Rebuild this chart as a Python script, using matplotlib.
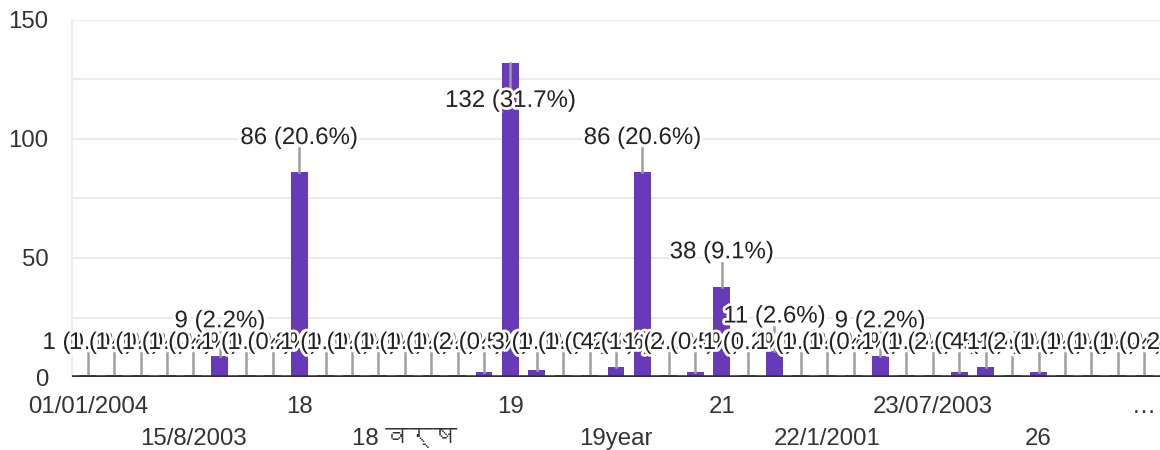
import matplotlib
matplotlib.use("Agg")
import matplotlib.pyplot as plt
import matplotlib.patheffects as pe
from matplotlib import font_manager
from matplotlib.ft2font import FT2Font
import numpy as np

# counts per response, in the order the chart shows them
counts = [1, 1, 1, 1, 1, 9, 1, 1, 86, 1, 1, 1, 1, 1, 1, 2, 132, 3, 1, 1, 4,
          86, 1, 2, 38, 1, 11, 1, 1, 1, 9, 1, 1, 2, 4, 1, 2, 1, 1, 1, 1]
# only every 4th category name is shown on the axis
tick_labels = ["01/01/2004", "15/8/2003", "18", "18 वर्ष", "19", "19year",
               "21", "22/1/2001", "23/07/2003", "26", "…"]
tick_step = 4
y_ticks = [0, 50, 100, 150]


def font_with(ch):
    # look for an installed face that can draw this character
    for f in font_manager.fontManager.ttflist:
        try:
            if FT2Font(f.fname).get_char_index(ord(ch)):
                return f.name
        except Exception:
            pass
    return None


families = ["Liberation Sans"]
deva = font_with("व")
if deva:
    families.append(deva)
families.append("DejaVu Sans")
plt.rcParams["font.family"] = families

BAR = "#673ab7"
GRID = "#ebebeb"
LEADER = "#9e9e9e"
TEXT = "#222222"
FS = 17.3

total = sum(counts)
x = np.arange(len(counts))

fig = plt.figure(figsize=(11.6, 4.5), dpi=100)
ax = fig.add_axes([72 / 1160, 1 - 377 / 450, 1088 / 1160, 357 / 450])

ax.bar(x, counts, width=0.64, color=BAR, zorder=2)
ax.set_xlim(-0.6, len(counts) - 0.4)
ax.set_ylim(0, 150)

# grid every 25, labels every 50
ax.set_yticks(y_ticks)
ax.set_yticks([25, 75, 125], minor=True)
ax.yaxis.grid(True, which="both", color=GRID, lw=1.5, zorder=0)
ax.set_axisbelow(True)
ax.tick_params(axis="y", which="both", length=0, pad=17, labelsize=FS, labelcolor="#333333")
ax.axhline(0, color="#333333", lw=2.6, zorder=4)

for s in ["top", "right", "bottom"]:
    ax.spines[s].set_visible(False)
ax.spines["left"].set_color(GRID)
ax.spines["left"].set_linewidth(1.5)

# two staggered rows of category names
ticks = x[::tick_step]
labels = [t if i % 2 == 0 else "\n" + t for i, t in enumerate(tick_labels)]
ax.set_xticks(ticks)
ax.set_xticklabels(labels, linespacing=1.58)
ax.tick_params(axis="x", length=0, pad=13.5, labelsize=FS, labelcolor="#333333")

# value labels with leader lines
half_h = 4.3
halo = [pe.withStroke(linewidth=4, foreground="white")]
for xi, v in zip(x, counts):
    pct = f"{v / total * 100:.1f}".replace(".0", "")
    txt = f"{v} ({pct}%)"
    if v + 14.4 + half_h > 150:
        ly = v - 16
        ax.plot([xi, xi], [v, ly + half_h], color=LEADER, lw=1.8, zorder=3)
    else:
        ly = v + 14.4 if v >= 5 else 14.3
        ax.plot([xi, xi], [v, ly - half_h], color=LEADER, lw=1.8, zorder=3)
    ax.text(xi, ly, txt, ha="center", va="center", fontsize=FS, color=TEXT,
            zorder=5, path_effects=halo)

fig.savefig("out.png", dpi=100)
